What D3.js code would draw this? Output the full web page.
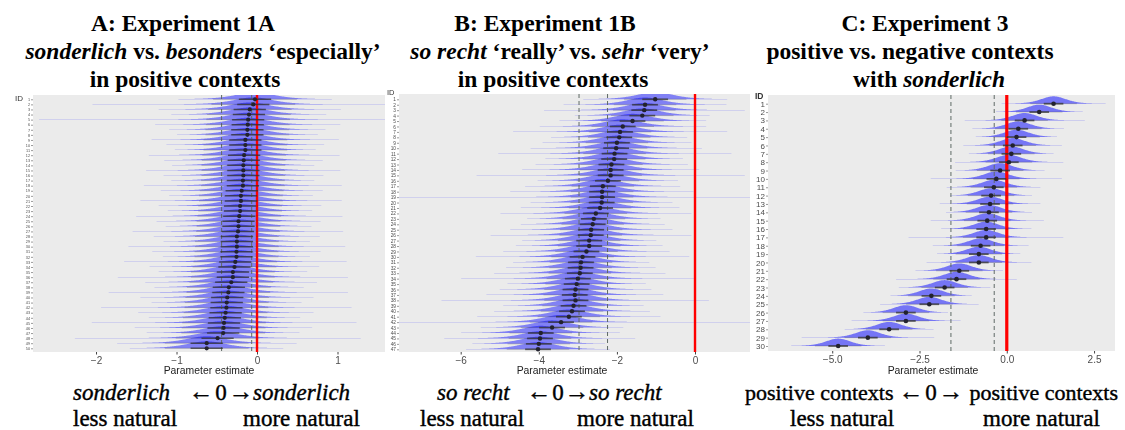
<!DOCTYPE html>
<html>
<head>
<meta charset="utf-8">
<script src="https://cdn.jsdelivr.net/npm/d3@7"></script>
<style>
  body { margin: 0; background: #fff; }
  svg { display: block; }
</style>
</head>
<body>
<svg id="chart" width="1125" height="430"></svg>
<script>
// Per-participant posterior means (sorted), one array per experiment
const estA = [-0.025, -0.046, -0.09, -0.10, -0.11, -0.115, -0.12, -0.12, -0.145, -0.145,
              -0.145, -0.16, -0.165, -0.17, -0.17, -0.17, -0.175, -0.175, -0.19, -0.20,
              -0.20, -0.21, -0.21, -0.22, -0.23, -0.23, -0.236, -0.25, -0.25, -0.25,
              -0.255, -0.255, -0.27, -0.28, -0.30, -0.30, -0.32, -0.35, -0.356, -0.37,
              -0.376, -0.38, -0.39, -0.40, -0.41, -0.415, -0.42, -0.49, -0.625, -0.625];
const estB = [-1.02, -1.28, -1.30, -1.35, -1.60, -1.85, -1.92, -1.94, -2.00, -2.02,
              -2.06, -2.07, -2.14, -2.16, -2.16, -2.23, -2.36, -2.38, -2.38, -2.39,
              -2.43, -2.54, -2.59, -2.62, -2.66, -2.67, -2.71, -2.71, -2.78, -2.88,
              -2.92, -2.93, -2.95, -3.00, -3.03, -3.06, -3.08, -3.06, -3.11, -3.15,
              -3.23, -3.43, -3.66, -3.95, -3.97, -4.00, -4.02];
const estC = [1.34, 0.93, 0.51, 0.33, 0.28, 0.17, 0.13, 0.06, -0.19, -0.30,
              -0.37, -0.45, -0.48, -0.51, -0.56, -0.59, -0.59, -0.75, -0.80, -0.80,
              -1.36, -1.44, -1.78, -2.16, -2.22, -2.89, -2.89, -3.37, -3.98, -4.83];

// Participant IDs (rank order)
const idsA = d3.range(1, estA.length + 1);
const idsB = d3.range(1, estB.length + 1);
const idsC = d3.range(1, estC.length + 1);

// Axis ticks
const ticksA = [-2, -1, 0, 1];
const ticksB = [-6, -4, -2, 0];
const ticksC = [-5, -2.5, 0, 2.5];
const tickLabelsA = ["\u22122", "\u22121", "0", "1"];
const tickLabelsB = ["\u22126", "\u22124", "\u22122", "0"];
const tickLabelsC = ["\u22125.0", "\u22122.5", "0.0", "2.5"];

// Group-level interval bounds (dashed reference lines)
const boundsA = [-0.44, -0.066];
const boundsB = [-2.97, -2.24];
const boundsC = [-1.60, -0.36];

// Posterior spread per experiment
const spreadA = 0.26;
const spreadB = 0.5;
const spreadC = 0.37;

const svg = d3.select("#chart");
const defs = svg.append("defs");
defs.append("filter").attr("id", "soft")
  .attr("x", "-2%").attr("y", "-2%").attr("width", "104%").attr("height", "104%")
  .append("feGaussianBlur").attr("stdDeviation", 0.35);

const panels = [
  { key: "A", est: estA, ids: idsA, ticks: ticksA, tickLabels: tickLabelsA, bounds: boundsA,
    spread: spreadA, nu: 4, domain: [-2.783, 1.59], left: 33, right: 385, top: 95, bottom: 352,
    rowTop: 99.3, rowBot: 348.3, slabH: 7, slabAlpha: 0.45, thick: 0.77, thin: 2.0, dotR: 2.1,
    idFont: 3.8, idTitle: { x: 15, y: 101, size: 8 }, axisTitleX: 209, redW: 2.4, lineW: 1.5 },
  { key: "B", est: estB, ids: idsB, ticks: ticksB, tickLabels: tickLabelsB, bounds: boundsB,
    spread: spreadB, nu: 4, domain: [-7.58, 1.408], left: 399, right: 750, top: 94, bottom: 352,
    rowTop: 99.3, rowBot: 349.3, slabH: 7.2, slabAlpha: 0.45, thick: 0.66, thin: 1.6, dotR: 2.2,
    idFont: 4.8, idTitle: { x: 387, y: 95, size: 7.5 }, axisTitleX: 562, redW: 2.4, lineW: 1.7 },
  { key: "C", est: estC, ids: idsC, ticks: ticksC, tickLabels: tickLabelsC, bounds: boundsC,
    spread: spreadC, nu: 6, domain: [-6.84, 3.10], left: 768, right: 1115, top: 95, bottom: 351,
    rowTop: 103.7, rowBot: 346, slabH: 7.4, slabAlpha: 0.5, thick: 0.76, thin: 1.8, dotR: 2.3,
    idFont: 8, idTitle: { x: 755, y: 99, size: 8.5 }, axisTitleX: 933, redW: 3.2, lineW: 1.8 }
];

panels.forEach(p => {
  const x = d3.scaleLinear().domain(p.domain).range([p.left, p.right]);
  const y = d3.scalePoint().domain(p.ids).range([p.rowTop, p.rowBot]);
  const g = svg.append("g").attr("filter", "url(#soft)");

  const clipId = "clip" + p.key;
  defs.append("clipPath").attr("id", clipId)
    .append("rect").attr("x", p.left).attr("y", p.top)
    .attr("width", p.right - p.left).attr("height", p.bottom - p.top);

  // panel background
  g.append("rect").attr("x", p.left).attr("y", p.top)
    .attr("width", p.right - p.left).attr("height", p.bottom - p.top)
    .attr("fill", "#EBEBEB");

  const plot = g.append("g").attr("clip-path", `url(#${clipId})`);

  // half-eye slabs: scaled Student-t shaped densities above each row
  const kernel = u => Math.pow(1 + u * u / p.nu, -(p.nu + 1) / 2);
  const grid = d3.range(p.domain[0], p.domain[1], (p.domain[1] - p.domain[0]) / 500).concat([p.domain[1]]);
  p.est.forEach((m, i) => {
    const base = y(p.ids[i]);
    const area = d3.area()
      .x(v => x(v))
      .y0(base)
      .y1(v => base - p.slabH * kernel((v - m) / p.spread));
    plot.append("path").datum(grid).attr("d", area)
      .attr("fill", "#0000FF").attr("fill-opacity", p.slabAlpha);
  });

  // dashed group-level bounds
  p.bounds.forEach(b => {
    plot.append("line").attr("x1", x(b)).attr("x2", x(b))
      .attr("y1", p.top).attr("y2", p.bottom)
      .attr("stroke", "#5f6a66").attr("stroke-width", 1)
      .attr("stroke-dasharray", "4,3");
  });

  // zero line
  plot.append("line").attr("x1", x(0)).attr("x2", x(0))
    .attr("y1", p.top).attr("y2", p.bottom)
    .attr("stroke", "#FF0000").attr("stroke-width", p.redW);

  // intervals and point estimates
  p.est.forEach((m, i) => {
    const base = y(p.ids[i]);
    plot.append("line")
      .attr("x1", x(m - p.thin * p.spread)).attr("x2", x(m + p.thin * p.spread))
      .attr("y1", base).attr("y2", base)
      .attr("stroke", "#333").attr("stroke-opacity", 0.35).attr("stroke-width", 0.7);
    plot.append("line")
      .attr("x1", x(m - p.thick * p.spread)).attr("x2", x(m + p.thick * p.spread))
      .attr("y1", base).attr("y2", base)
      .attr("stroke", "#333").attr("stroke-opacity", 0.75).attr("stroke-width", p.lineW);
    plot.append("circle").attr("cx", x(m)).attr("cy", base).attr("r", p.dotR)
      .attr("fill", "#23232e");
  });

  // x axis
  const xAxis = d3.axisBottom(x).tickValues(p.ticks)
    .tickFormat((d, i) => p.tickLabels[i]).tickSize(2.5).tickPadding(2);
  const ax = g.append("g").attr("transform", `translate(0,${p.bottom})`).call(xAxis);
  ax.select(".domain").remove();
  ax.selectAll(".tick line").attr("stroke", "#444");
  ax.selectAll(".tick text").attr("fill", "#4D4D4D")
    .attr("font-family", "Liberation Sans, Arial, sans-serif").attr("font-size", 10);

  g.append("text").attr("x", p.axisTitleX).attr("y", 374)
    .attr("text-anchor", "middle")
    .attr("font-family", "Liberation Sans, Arial, sans-serif").attr("font-size", 10.4)
    .attr("fill", "#222").text("Parameter estimate");

  // y axis with participant IDs
  const yAxis = d3.axisLeft(y).tickSize(2).tickPadding(1);
  const ay = g.append("g").attr("transform", `translate(${p.left},0)`).call(yAxis);
  ay.select(".domain").remove();
  ay.selectAll(".tick line").attr("stroke", "#555").attr("stroke-width", 0.6);
  ay.selectAll(".tick text").attr("fill", "#4D4D4D")
    .attr("font-family", "Liberation Sans, Arial, sans-serif").attr("font-size", p.idFont);

  g.append("text").attr("x", p.idTitle.x).attr("y", p.idTitle.y)
    .attr("font-family", "Liberation Sans, Arial, sans-serif")
    .attr("font-size", p.idTitle.size).attr("fill", "#333")
    .attr("font-weight", p.key === "C" ? "bold" : "normal").text("ID");
});

// Panel titles
const serif = "'Liberation Serif', 'Times New Roman', serif";
const titles = [
  { cx: [183, 203, 185], lines: [
      [["A: Experiment 1A", false]],
      [["sonderlich", true], [" vs. ", false], ["besonders", true], [" \u2018especially\u2019", false]],
      [["in positive contexts", false]] ] },
  { cx: [545, 560, 553], lines: [
      [["B: Experiment 1B", false]],
      [["so recht", true], [" \u2018really\u2019 vs. ", false], ["sehr", true], [" \u2018very\u2019", false]],
      [["in positive contexts", false]] ] },
  { cx: [925, 910, 929], lines: [
      [["C: Experiment 3", false]],
      [["positive vs. negative contexts", false]],
      [["with ", false], ["sonderlich", true]] ] }
];
const titleBaselines = [31, 59, 87];
titles.forEach(t => {
  t.lines.forEach((parts, li) => {
    const txt = svg.append("text").attr("x", t.cx[li]).attr("y", titleBaselines[li])
      .attr("text-anchor", "middle").attr("font-family", serif)
      .attr("font-size", 23.5).attr("font-weight", "bold").attr("fill", "#000")
      .style("white-space", "pre");
    parts.forEach(([s, it]) => {
      txt.append("tspan").attr("font-style", it ? "italic" : "normal").text(s);
    });
  });
});

// Direction captions under each panel: [text, x, anchor, baseline, italic, size]
const captions = [
  ["sonderlich", 73, "start", 400, true, 23],
  ["\u2190", 201, "middle", 400, false, 25],
  ["0", 221, "middle", 400, false, 23],
  ["\u2192", 241, "middle", 400, false, 25],
  ["sonderlich", 253, "start", 400, true, 23],
  ["less natural", 73, "start", 426, false, 23],
  ["more natural", 243, "start", 426, false, 23],
  ["so recht", 437, "start", 400, true, 23],
  ["\u2190", 539, "middle", 400, false, 25],
  ["0", 558, "middle", 400, false, 23],
  ["\u2192", 577, "middle", 400, false, 25],
  ["so recht", 589, "start", 400, true, 23],
  ["less natural", 420, "start", 426, false, 23],
  ["more natural", 577, "start", 426, false, 23],
  ["positive contexts", 745, "start", 400, false, 22],
  ["\u2190", 911, "middle", 400, false, 25],
  ["0", 931, "middle", 400, false, 23],
  ["\u2192", 951, "middle", 400, false, 25],
  ["positive contexts", 1118, "end", 400, false, 22],
  ["less natural", 790, "start", 426, false, 23],
  ["more natural", 983, "start", 426, false, 23]
];
svg.append("g").selectAll("text").data(captions).join("text")
  .attr("x", d => d[1]).attr("y", d => d[3])
  .attr("text-anchor", d => d[2])
  .attr("font-family", serif)
  .attr("font-size", d => d[5])
  .attr("font-style", d => d[4] ? "italic" : "normal")
  .attr("fill", "#000").attr("stroke", "#000").attr("stroke-width", 0.4)
  .text(d => d[0]);
</script>
</body>
</html>
